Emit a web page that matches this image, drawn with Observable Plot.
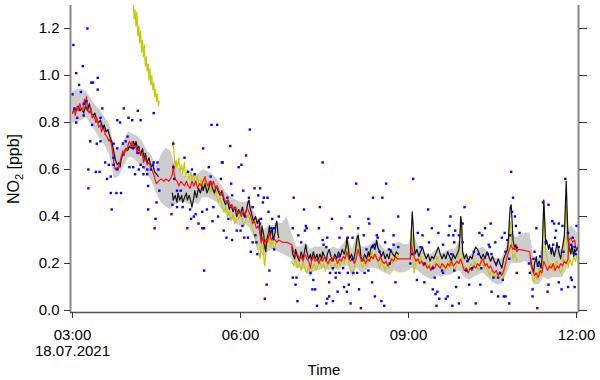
<!DOCTYPE html>
<html><head><meta charset="utf-8">
<script src="https://cdn.jsdelivr.net/npm/d3@7"></script>
<script src="https://cdn.jsdelivr.net/npm/@observablehq/plot@0.6"></script>
<style>body{margin:0;background:#fff}#chart{width:600px;height:380px}</style>
</head><body><div id="chart"></div>
<script>
// time in minutes after 03:00 on 18.07.2021, values in ppb
const startTime = Date.UTC(2021, 6, 18, 3, 0);
const xDomainMinutes = [-2.14, 542.14];
const yDomain = [-0.0085, 1.298];
const yTicks = [0, 0.2, 0.4, 0.6, 0.8, 1.0, 1.2];
const xTickMinutes = [0, 180, 360, 540];
const xTickLabels = ["03:00\n18.07.2021", "06:00", "09:00", "12:00"];
const yLabel = ["NO", "2", " [ppb]"];
const xLabel = "Time";

const blackLine = [
[0,0.84],[2,0.86],[4,0.85],[6,0.87],[8,0.85],[10,0.86],[12,0.84],[14,0.87],[16,0.85],[18,0.88],[20,0.84],[22,0.83],[24,0.84],[26,0.81],[28,0.80],[30,0.81],[32,0.78],[34,0.79],[36,0.76],[38,0.77],[40,0.74],[42,0.72],[43,0.70],[44,0.68],[45,0.66],[46,0.64],[47,0.63],[48,0.62],[50,0.63],[51,0.61],[52,0.64],[54,0.67],[55,0.66],[57,0.69],[59,0.68],[61,0.70],[63,0.69],[65,0.72],[67,0.70],[68,0.72],[70,0.68],[71,0.70],[73,0.66],[75,0.69],[77,0.64],[78,0.67],[80,0.63],[82,0.65],[84,0.61],[86,0.62],[88,0.59],[90,0.58],[92,0.57],[93,null],
[107,0.50],[108,0.47],[110,0.49],[112,0.46],[113,0.50],[115,0.47],[117,0.49],[118,0.46],[120,0.48],[122,0.50],[123,0.47],[125,0.49],[127,0.46],[128,0.44],[130,0.48],[131,0.51],[133,0.48],[135,0.52],[137,0.50],[139,0.53],[140,0.51],[142,0.54],[144,0.50],[146,0.52],[148,0.55],[150,0.52],[152,0.50],[154,0.53],[156,0.51],[158,0.49],[160,0.51],[162,0.47],[164,0.45],[166,0.47],[168,0.43],[170,0.45],[172,0.42],[174,0.44],[176,0.40],[178,0.43],[180,0.41],[182,0.44],[184,0.40],[186,0.42],[188,0.46],[189,0.47],[190,0.44],[192,0.41],[194,0.38],[196,0.40],[198,0.37],[200,0.39],[201,0.33],[202,0.30],[203,0.36],[205,0.32],[206,0.27],[207,0.25],[208,0.30],[210,0.33],[211,0.36],[212,0.32],[214,0.35],[215,0.30],[217,0.33],[218,0.37],[219,0.38],[220,0.33],[221,0.31],[222,null],
[235,0.27],[236,0.24],[238,0.22],[239,0.26],[241,0.23],[243,0.21],[245,0.25],[247,0.22],[248,0.24],[250,0.28],[251,0.25],[253,0.22],[255,0.24],[256,0.21],[258,0.25],[260,0.22],[262,0.24],[263,0.21],[265,0.24],[267,0.22],[268,0.25],[270,0.23],[272,0.21],[273,0.24],[275,0.26],[277,0.23],[279,0.21],[281,0.24],[283,0.22],[285,0.25],[287,0.23],[289,0.26],[291,0.24],[293,0.27],[294,0.31],[296,0.25],[297,0.22],[299,0.24],[301,0.21],[303,0.25],[305,0.31],[306,0.32],[308,0.27],[309,0.23],[311,0.21],[313,0.24],[315,0.22],[317,0.25],[318,0.23],[320,0.27],[322,0.28],[324,0.26],[326,0.30],[327,0.27],[329,0.25],[331,0.23],[333,0.25],[335,0.22],[337,0.24],[339,0.22],[341,0.26],[343,0.24],[345,0.23],[347,0.25],[349,0.24],[350,null],
[362,0.22],[363,0.33],[364,0.42],[365,0.36],[366,0.28],[367,0.24],[369,0.26],[371,0.23],[373,0.25],[375,0.27],[377,0.24],[379,0.22],[381,0.24],[383,0.21],[385,0.23],[387,0.22],[389,0.24],[391,0.26],[392,0.27],[394,0.24],[396,0.22],[398,0.24],[400,0.22],[402,0.25],[404,0.23],[406,0.21],[408,0.24],[410,0.22],[412,0.24],[414,0.26],[415,0.30],[416,0.40],[417,0.37],[418,0.25],[420,0.22],[422,0.24],[424,0.21],[426,0.23],[428,0.22],[430,0.25],[432,0.27],[434,0.26],[436,0.24],[438,0.22],[440,0.24],[442,0.22],[444,0.25],[446,0.23],[448,0.21],[450,0.23],[452,0.21],[454,0.19],[456,0.22],[458,0.20],[460,0.18],[462,0.22],[464,0.24],[466,0.26],[467,0.30],[468,0.38],[469,0.44],[470,0.45],[471,0.38],[472,0.30],[473,0.28],[474,0.26],[475,0.28],[476,0.26],[477,0.27],[478,null],
[491,0.22],[492,0.19],[494,0.16],[495,0.20],[497,0.23],[498,0.19],[500,0.21],[502,0.18],[503,0.22],[504,0.35],[505,0.47],[506,0.38],[507,0.28],[508,0.30],[510,0.26],[511,0.28],[513,0.24],[514,0.27],[516,0.23],[518,0.26],[519,0.29],[521,0.25],[523,0.22],[524,0.25],[525,0.27],[527,0.32],[528,0.44],[529,0.55],[530,0.42],[531,0.30],[532,0.27],[534,0.24],[535,0.28],[537,0.23],[538,0.26],[539,0.25],[541,0.27]
];

const redLine = [
[0,0.84],[2,0.86],[3,0.83],[5,0.87],[6,0.85],[8,0.88],[9,0.86],[11,0.85],[12,0.88],[13,0.90],[14,0.87],[15,0.91],[16,0.86],[18,0.84],[20,0.86],[21,0.82],[23,0.83],[25,0.80],[26,0.82],[28,0.78],[30,0.79],[31,0.76],[33,0.78],[35,0.75],[37,0.74],[39,0.72],[40,0.73],[42,0.70],[43,0.67],[44,0.64],[45,0.61],[46,0.60],[48,0.61],[49,0.60],[50,0.62],[52,0.65],[54,0.68],[55,0.66],[57,0.69],[58,0.68],[60,0.71],[61,0.72],[63,0.70],[64,0.72],[66,0.69],[68,0.70],[69,0.67],[71,0.69],[73,0.66],[75,0.67],[76,0.63],[78,0.65],[80,0.62],[82,0.63],[84,0.61],[86,0.59],[87,0.58],[89,0.55],[90,0.54],[92,0.55],[95,0.56],[98,0.55],[100,0.56],[103,0.55],[105,0.56],[107,0.58],[108,0.62],[109,0.58],[110,0.56],[112,0.55],[114,0.53],[116,0.55],[118,0.54],[120,0.53],[122,0.55],[124,0.53],[126,0.52],[128,0.55],[130,0.53],[132,0.55],[134,0.52],[136,0.54],[138,0.53],[140,0.55],[142,0.57],[143,0.55],[145,0.53],[147,0.55],[149,0.53],[151,0.55],[153,0.52],[155,0.53],[157,0.51],[159,0.49],[161,0.50],[163,0.47],[165,0.46],[167,0.47],[169,0.44],[171,0.45],[173,0.43],[175,0.44],[177,0.41],[179,0.42],[181,0.40],[183,0.42],[185,0.41],[187,0.44],[189,0.42],[191,0.40],[193,0.37],[195,0.38],[197,0.35],[199,0.36],[201,0.33],[202,0.29],[204,0.31],[205,0.28],[207,0.30],[209,0.29],[211,0.33],[213,0.30],[215,0.31],[217,0.30],[219,0.29],[221,0.30],[225,0.29],[230,0.29],[235,0.28],[237,0.25],[239,0.23],[241,0.24],[243,0.22],[245,0.23],[247,0.21],[249,0.24],[251,0.22],[253,0.21],[255,0.18],[256,0.21],[258,0.23],[260,0.21],[262,0.22],[264,0.20],[266,0.22],[268,0.21],[270,0.23],[272,0.21],[274,0.20],[276,0.22],[278,0.21],[280,0.23],[282,0.22],[284,0.20],[286,0.22],[288,0.21],[290,0.23],[292,0.22],[294,0.25],[296,0.22],[298,0.21],[300,0.22],[302,0.20],[304,0.22],[306,0.26],[308,0.23],[310,0.21],[312,0.22],[314,0.20],[316,0.22],[318,0.21],[320,0.23],[322,0.22],[324,0.24],[326,0.22],[328,0.21],[330,0.23],[332,0.21],[334,0.20],[336,0.21],[338,0.19],[340,0.20],[342,0.22],[344,0.21],[346,0.23],[348,0.22],[355,0.22],[362,0.22],[363,0.28],[364,0.26],[366,0.23],[368,0.21],[370,0.22],[372,0.20],[374,0.21],[376,0.19],[378,0.20],[380,0.18],[382,0.19],[384,0.17],[386,0.19],[388,0.18],[390,0.20],[392,0.19],[394,0.18],[396,0.20],[398,0.19],[400,0.18],[402,0.20],[404,0.19],[406,0.21],[408,0.19],[410,0.20],[412,0.21],[414,0.20],[416,0.22],[418,0.19],[420,0.17],[422,0.18],[424,0.16],[426,0.18],[428,0.17],[430,0.19],[432,0.18],[434,0.20],[436,0.19],[438,0.21],[440,0.22],[442,0.19],[444,0.20],[446,0.18],[448,0.19],[450,0.17],[452,0.16],[454,0.17],[456,0.15],[458,0.16],[460,0.15],[462,0.17],[464,0.20],[466,0.23],[468,0.26],[470,0.28],[472,0.26],[474,0.27],[476,0.25],[478,0.26],[485,0.255],[490,0.25],[491,0.20],[493,0.17],[495,0.15],[497,0.16],[499,0.14],[501,0.17],[503,0.16],[505,0.21],[507,0.19],[509,0.17],[511,0.19],[513,0.18],[515,0.20],[517,0.17],[519,0.19],[521,0.18],[523,0.20],[525,0.19],[527,0.21],[529,0.20],[531,0.22],[532,0.30],[534,0.31],[536,0.29],[538,0.30],[539,0.27],[541,0.26]
];

const yellowLine = [
[65,1.33],[66,1.24],[67,1.28],[68,1.21],[69,1.27],[70,1.17],[71,1.21],[72,1.14],[73,1.19],[74,1.10],[75,1.15],[76,1.08],[77,1.13],[78,1.04],[79,1.08],[80,1.02],[81,1.05],[82,0.98],[83,1.03],[84,0.96],[85,1.00],[86,0.94],[87,0.97],[88,0.91],[89,0.94],[90,0.89],[91,0.92],[92,0.87],[93,0.89],[94,null],
[107,0.70],[108,0.72],[109,0.66],[110,0.60],[111,0.64],[112,0.61],[114,0.65],[115,0.59],[117,0.62],[118,0.58],[120,0.63],[121,0.57],[123,0.60],[125,0.56],[127,0.59],[128,0.55],[130,0.58],[132,0.54],[134,0.57],[136,0.53],[138,0.56],[140,0.52],[142,0.55],[144,0.51],[146,0.54],[148,0.50],[150,0.53],[152,0.49],[154,0.51],[156,0.46],[158,0.48],[160,0.45],[162,0.42],[164,0.44],[166,0.40],[168,0.42],[170,0.38],[172,0.41],[174,0.37],[176,0.40],[178,0.39],[180,0.41],[182,0.38],[184,0.36],[186,0.39],[188,0.41],[190,0.38],[192,0.36],[194,0.33],[196,0.30],[198,0.27],[200,0.24],[201,0.22],[202,0.28],[204,0.33],[205,0.22],[206,0.19],[207,0.24],[209,0.29],[211,0.32],[212,0.27],[214,0.30],[216,0.26],[218,0.29],[220,0.31],[221,null],
[235,0.21],[237,0.19],[239,0.22],[241,0.18],[243,0.20],[245,0.17],[247,0.21],[249,0.18],[251,0.16],[253,0.19],[255,0.15],[257,0.18],[259,0.20],[261,0.17],[263,0.19],[265,0.21],[267,0.18],[269,0.20],[271,0.17],[273,0.19],[275,0.22],[277,0.19],[279,0.17],[281,0.20],[283,0.18],[285,0.21],[287,0.19],[289,0.22],[291,0.20],[293,0.25],[294,0.30],[295,0.26],[296,0.20],[298,0.17],[300,0.15],[302,0.18],[304,0.23],[305,0.30],[306,0.33],[307,0.26],[309,0.20],[311,0.18],[313,0.21],[315,0.19],[317,0.23],[319,0.21],[321,0.25],[323,0.22],[325,0.24],[327,0.20],[329,0.18],[331,0.21],[333,0.19],[335,0.17],[337,0.20],[339,0.18],[341,0.22],[343,0.20],[345,0.23],[347,0.21],[349,0.24],[350,null],
[362,0.24],[363,0.35],[364,0.30],[365,0.22],[366,0.16],[367,0.19],[369,0.22],[371,0.20],[373,0.23],[375,0.21],[377,0.19],[379,0.21],[381,0.18],[383,0.20],[385,0.17],[387,0.19],[389,0.21],[391,0.23],[393,0.20],[395,0.18],[397,0.20],[399,0.17],[401,0.19],[403,0.21],[405,0.18],[407,0.20],[409,0.17],[411,0.19],[413,0.21],[414,0.25],[415,0.33],[416,0.40],[417,0.34],[418,0.22],[419,0.17],[421,0.19],[423,0.16],[425,0.18],[427,0.20],[429,0.18],[431,0.21],[433,0.19],[435,0.17],[437,0.19],[439,0.21],[441,0.18],[443,0.20],[445,0.17],[447,0.15],[449,0.17],[451,0.15],[453,0.14],[455,0.16],[457,0.14],[459,0.16],[461,0.13],[463,0.17],[465,0.22],[467,0.28],[468,0.34],[469,0.38],[470,0.33],[471,0.25],[472,0.22],[474,0.24],[476,0.21],[477,0.22],[478,null],
[491,0.17],[493,0.13],[494,0.12],[496,0.16],[498,0.13],[500,0.18],[502,0.15],[503,0.20],[504,0.32],[505,0.45],[506,0.36],[507,0.25],[509,0.21],[511,0.18],[513,0.20],[515,0.17],[517,0.19],[519,0.21],[521,0.18],[523,0.16],[525,0.18],[527,0.30],[528,0.40],[529,0.45],[530,0.30],[531,0.18],[533,0.22],[535,0.19],[537,0.23],[539,0.21],[541,0.24]
];

// [time, lower, upper]
const bandRange = [
[0,0.80,0.93],[5,0.80,0.94],[10,0.81,0.94],[15,0.82,0.93],[20,0.79,0.90],[25,0.76,0.87],[30,0.73,0.85],[35,0.70,0.82],[40,0.66,0.79],[45,0.56,0.69],[50,0.57,0.68],[55,0.61,0.72],[60,0.65,0.76],[65,0.65,0.75],[70,0.63,0.74],[75,0.61,0.72],[80,0.58,0.68],[85,0.55,0.66],[90,0.50,0.61],[95,0.46,0.66],[100,0.44,0.69],[105,0.43,0.68],[110,0.45,0.62],[115,0.46,0.60],[120,0.46,0.57],[125,0.45,0.57],[130,0.46,0.58],[135,0.45,0.58],[140,0.48,0.60],[145,0.48,0.59],[150,0.47,0.58],[155,0.46,0.56],[160,0.43,0.53],[165,0.41,0.50],[170,0.39,0.48],[175,0.37,0.47],[180,0.36,0.46],[185,0.37,0.46],[190,0.35,0.47],[195,0.31,0.42],[200,0.26,0.38],[205,0.23,0.34],[210,0.25,0.36],[215,0.26,0.36],[220,0.25,0.37],[225,0.24,0.37],[230,0.23,0.40],[235,0.22,0.33],[240,0.18,0.27],[245,0.18,0.27],[250,0.17,0.29],[255,0.14,0.26],[260,0.17,0.27],[265,0.17,0.27],[270,0.18,0.27],[275,0.17,0.26],[280,0.18,0.27],[285,0.17,0.26],[290,0.18,0.28],[295,0.19,0.31],[300,0.16,0.26],[305,0.18,0.32],[310,0.16,0.27],[315,0.17,0.27],[320,0.18,0.28],[325,0.18,0.30],[330,0.17,0.28],[335,0.16,0.26],[340,0.15,0.25],[345,0.17,0.28],[350,0.16,0.29],[355,0.16,0.28],[360,0.17,0.28],[365,0.18,0.33],[370,0.17,0.28],[375,0.15,0.26],[380,0.14,0.24],[385,0.13,0.24],[390,0.15,0.26],[395,0.14,0.24],[400,0.15,0.25],[405,0.15,0.26],[410,0.16,0.26],[415,0.17,0.30],[420,0.14,0.24],[425,0.13,0.23],[430,0.14,0.25],[435,0.15,0.26],[440,0.16,0.27],[445,0.14,0.25],[450,0.12,0.23],[455,0.11,0.22],[460,0.11,0.22],[465,0.15,0.27],[470,0.20,0.34],[475,0.20,0.31],[480,0.20,0.32],[485,0.21,0.33],[490,0.20,0.33],[495,0.11,0.21],[500,0.11,0.22],[505,0.14,0.30],[510,0.13,0.25],[515,0.14,0.25],[520,0.14,0.26],[525,0.14,0.26],[530,0.18,0.34],[535,0.24,0.36],[541,0.22,0.33]
];

const singlePoints = [
[1,1.13],[16,1.20],[4,1.01],[11,1.04],[7,0.96],[0,0.92],[9,0.93],[20,0.97],[22,0.97],[27,0.99],[27,0.94],[15,0.89],[12,0.88],[2,0.86],[5,0.82],[12,0.83],[4,0.80],[32,0.86],[30,0.82],[21,0.79],[33,0.78],[19,0.72],[26,0.71],[30,0.72],[55,0.86],[48,0.81],[60,0.82],[64,0.81],[70,0.85],[73,0.81],[87,0.84],[51,0.80],[59,0.74],[57,0.72],[54,0.71],[48,0.69],[44,0.71],[44,0.65],[39,0.62],[44,0.62],[35,0.63],[41,0.57],[37,0.56],[48,0.60],[17,0.60],[25,0.59],[29,0.59],[17,0.52],[65,0.69],[70,0.67],[73,0.62],[76,0.61],[80,0.58],[71,0.60],[67,0.58],[65,0.61],[61,0.61],[84,0.60],[86,0.62],[87,0.63],[76,0.58],[80,0.60],
[41,0.50],[47,0.50],[52,0.50],[42,0.43],[81,0.53],[81,0.43],[90,0.46],[89,0.39],[88,0.35],[91,0.63],[92,0.60],[93,0.51],
[108,0.71],[108,0.61],[112,0.51],[106,0.41],[107,0.45],[112,0.44],[118,0.44],[120,0.65],[124,0.59],[131,0.58],[123,0.35],[126,0.43],[127,0.39],[130,0.40],[132,0.41],[135,0.37],[116,0.51],[139,0.35],[141,0.35],[140,0.69],[149,0.79],[155,0.79],[146,0.61],[148,0.57],[139,0.42],[144,0.43],[151,0.44],[156,0.40],[150,0.38],[159,0.56],[161,0.63],[169,0.70],[170,0.54],[162,0.34],[165,0.31],[167,0.39],[171,0.30],[176,0.34],[180,0.34],[178,0.61],[181,0.62],[183,0.51],[182,0.36],[141,0.17],[166,0.48],[171,0.49],[109,0.56],[128,0.60],[186,0.66],[190,0.77],[160,0.63],
[195,0.52],[201,0.52],[199,0.49],[205,0.48],[209,0.48],[204,0.46],[189,0.48],[193,0.44],[185,0.40],[188,0.31],[184,0.31],[196,0.32],[193,0.29],[197,0.29],[191,0.25],[198,0.24],[202,0.39],[201,0.37],[210,0.42],[214,0.39],[213,0.35],[216,0.35],[221,0.40],[215,0.31],[216,0.26],[211,0.17],[208,0.11],[206,0.05],
[237,0.48],[248,0.43],[236,0.35],[242,0.32],[250,0.36],[251,0.35],[249,0.34],[265,0.44],[268,0.63],[264,0.35],[268,0.30],[269,0.28],[245,0.29],[236,0.14],[240,0.14],[239,0.11],[258,0.13],[257,0.09],[260,0.09],[241,0.04],[262,0.02],[272,0.03],[273,0.05],[255,0.16],
[304,0.54],[336,0.54],[365,0.56],[322,0.48],[332,0.48],[349,0.40],[278,0.39],[297,0.40],[317,0.39],[318,0.37],[306,0.35],[288,0.35],[273,0.31],[286,0.31],[295,0.31],[300,0.31],[312,0.32],[326,0.32],[327,0.31],[333,0.34],[344,0.32],[335,0.29],[344,0.28],[349,0.27],[272,0.27],[324,0.28],[321,0.27],[315,0.26],[329,0.25],[339,0.26],[300,0.22],[286,0.23],[279,0.18],[282,0.16],[286,0.16],[290,0.18],[276,0.16],[295,0.16],[305,0.16],[313,0.16],[317,0.17],[301,0.16],[340,0.20],[275,0.12],[282,0.14],[296,0.11],[291,0.10],[321,0.12],[346,0.12],[307,0.09],[284,0.08],[294,0.08],[324,0.06],[275,0.06],[279,0.04],[331,0.04],[298,0.03],[309,0.01],[334,0.02],
[381,0.43],[420,0.44],[405,0.40],[385,0.35],[404,0.36],[410,0.34],[448,0.37],[442,0.35],[418,0.37],[392,0.33],[370,0.33],[375,0.32],[403,0.32],[408,0.32],[414,0.32],[436,0.33],[439,0.32],[382,0.29],[397,0.28],[409,0.29],[418,0.29],[446,0.28],[447,0.27],[453,0.29],[373,0.27],[406,0.24],[430,0.25],[435,0.24],[445,0.24],[449,0.24],[423,0.21],[364,0.24],[362,0.20],[454,0.20],[377,0.20],[386,0.18],[396,0.17],[397,0.16],[409,0.17],[422,0.17],[428,0.18],[438,0.18],[451,0.14],[456,0.14],[369,0.13],[377,0.12],[388,0.14],[414,0.14],[425,0.11],[437,0.11],[411,0.10],[386,0.09],[391,0.08],[389,0.07],[402,0.06],[400,0.05],[393,0.05],[449,0.08],[456,0.06],[432,0.03],[414,0.03],[407,0.02],[390,0.02],
[470,0.59],[472,0.48],[528,0.56],[471,0.42],[474,0.40],[475,0.36],[479,0.33],[469,0.32],[463,0.33],[460,0.31],[466,0.30],[497,0.35],[504,0.46],[510,0.45],[514,0.38],[516,0.37],[521,0.37],[525,0.36],[540,0.36],[518,0.34],[517,0.31],[521,0.27],[526,0.25],[531,0.33],[536,0.31],[534,0.28],[538,0.27],[541,0.26],[539,0.24],[513,0.26],[515,0.28],[507,0.29],[501,0.23],[499,0.19],[494,0.22],[495,0.25],[490,0.16],[489,0.20],[468,0.22],[464,0.25],[458,0.16],[476,0.16],[461,0.13],[462,0.06],[464,0.06],[468,0.03],[493,0.09],[493,0.06],[509,0.08],[521,0.12],[524,0.09],[531,0.10],[538,0.10],[534,0.14],[510,0.11],[535,0.13],[498,0.01]
];

const toDate = m => new Date(startTime + m * 60000);
const pts = arr => arr.map(([t, v]) => ({time: toDate(t), v}));
const black = pts(blackLine), red = pts(redLine), yellow = pts(yellowLine), dots = pts(singlePoints);
const band = bandRange.map(([t, lo, hi]) => ({time: toDate(t), lo, hi}));
const xDomain = xDomainMinutes.map(toDate);
const xTicks = xTickMinutes.map(toDate);

const W = 600, H = 380, ML = 70, MR = 22, MT = 5, MB = 68;
const font = "'Liberation Sans', Arial, Helvetica, sans-serif";

const chart = Plot.plot({
  width: W, height: H,
  marginLeft: ML, marginRight: MR, marginTop: MT, marginBottom: MB,
  style: {fontFamily: font, fontSize: "15px", color: "#000", background: "#fff", overflow: "visible"},
  x: {type: "utc", domain: xDomain},
  y: {domain: yDomain},
  marks: [
    Plot.areaY(band, {x: "time", y1: "lo", y2: "hi", fill: "#cdcdcd", curve: "linear"}),
    Plot.line(yellow, {x: "time", y: "v", stroke: "#c8c800", strokeWidth: 1.2, clip: true}),
    Plot.line(black, {x: "time", y: "v", stroke: "#111", strokeWidth: 1.2}),
    Plot.line(red, {x: "time", y: "v", stroke: "#ff1010", strokeWidth: 1.2}),
    Plot.dot(dots, {x: "time", y: "v", symbol: "square", r: 1.35, fill: "#0000ff", stroke: null}),
    Plot.ruleY([yDomain[0]], {stroke: "#555", strokeWidth: 1.5}),
    Plot.ruleX([xDomain[0]], {stroke: "#888", strokeWidth: 2}),
    Plot.ruleX([xDomain[1]], {stroke: "#888", strokeWidth: 2}),
    Plot.axisY({ticks: yTicks, tickSize: 6, tickPadding: 5, tickFormat: d3.format(".1f"), label: null, stroke: "#333"}),
    Plot.axisY({anchor: "right", ticks: yTicks, tickSize: 8, tickFormat: () => "", label: null, stroke: "#333"}),
    Plot.axisX({ticks: xTicks, tickSize: 6, tickPadding: 9, lineHeight: 1.13, label: null, stroke: "#333",
      tickFormat: d => xTickLabels[xTicks.findIndex(t => +t === +d)]})
  ]
});
document.getElementById("chart").appendChild(chart);

const svg = d3.select(chart);
const xs = chart.scale("x"), ys = chart.scale("y");
const cx = (xs.apply(xDomain[0]) + xs.apply(xDomain[1])) / 2;
svg.append("text").attr("x", cx).attr("y", 375).attr("text-anchor", "middle")
  .attr("font-family", font).attr("font-size", 15).text(xLabel);
const ylab = svg.append("text").attr("transform", `translate(19,${ys.apply(0.6)}) rotate(-90)`)
  .attr("text-anchor", "middle").attr("font-family", font).attr("font-size", 16);
ylab.append("tspan").text(yLabel[0]);
ylab.append("tspan").attr("font-size", 11).attr("dy", 4).text(yLabel[1]);
ylab.append("tspan").attr("dy", -4).text(yLabel[2]);
</script>
</body></html>
